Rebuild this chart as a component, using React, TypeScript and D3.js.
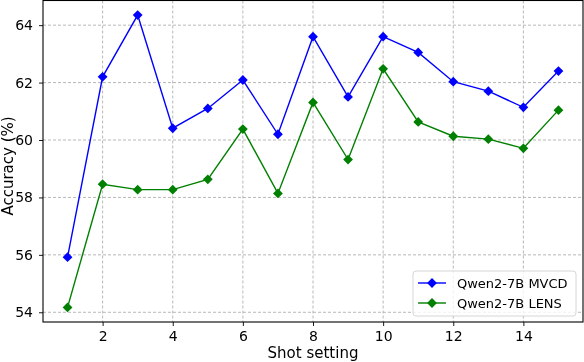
import * as d3 from 'd3';
import React, { useEffect, useRef } from 'react';

// shot settings on the x axis
const shots = [1, 2, 3, 4, 5, 6, 7, 8, 9, 10, 11, 12, 13, 14, 15];

// accuracy (%) per shot setting
const mvcd = [55.92, 62.2, 64.35, 60.41, 61.1, 62.09, 60.2, 63.6, 61.5, 63.6, 63.05, 62.03, 61.7, 61.14, 62.4];
const lens = [54.17, 58.46, 58.27, 58.27, 58.63, 60.38, 58.14, 61.31, 59.32, 62.48, 60.63, 60.13, 60.03, 59.71, 61.04];

const seriesNames = ['Qwen2-7B MVCD', 'Qwen2-7B LENS'];
const seriesColors = ['#0000ff', '#008000'];

const xTicks = [2, 4, 6, 8, 10, 12, 14];
const yTicks = [54, 56, 58, 60, 62, 64];

const App = () => {
  const svgRef = useRef<SVGSVGElement>(null);

  useEffect(() => {
    const svg = d3.select(svgRef.current);
    svg.selectAll('*').remove();

    const width = 584;
    const height = 362;
    const margin = { top: 0.5, right: 1, bottom: 40, left: 43 };
    const innerW = width - margin.left - margin.right;
    const innerH = height - margin.top - margin.bottom;
    const font = 'DejaVu Sans, sans-serif';

    // matplotlib-like 5% padding
    const xPad = (15 - 1) * 0.05;
    const yMin = 54.17, yMax = 64.35;
    const yPad = (yMax - yMin) * 0.05;
    const x = d3.scaleLinear().domain([1 - xPad, 15 + xPad]).range([0, innerW]);
    const y = d3.scaleLinear().domain([yMin - yPad, yMax + yPad]).range([innerH, 0]);

    const g = svg.append('g').attr('transform', `translate(${margin.left},${margin.top})`);

    // grid
    g.append('g')
      .selectAll('line')
      .data(xTicks)
      .enter()
      .append('line')
      .attr('x1', d => x(d)).attr('x2', d => x(d))
      .attr('y1', 0).attr('y2', innerH)
      .attr('stroke', '#b0b0b0')
      .attr('stroke-width', 0.9)
      .attr('stroke-dasharray', '3,2');
    g.append('g')
      .selectAll('line')
      .data(yTicks)
      .enter()
      .append('line')
      .attr('x1', 0).attr('x2', innerW)
      .attr('y1', d => y(d)).attr('y2', d => y(d))
      .attr('stroke', '#b0b0b0')
      .attr('stroke-width', 0.9)
      .attr('stroke-dasharray', '3,2');

    // axes
    const xAxis = g.append('g')
      .attr('transform', `translate(0,${innerH})`)
      .call(d3.axisBottom(x).tickValues(xTicks).tickSize(4).tickPadding(5).tickFormat(d3.format('d')));
    const yAxis = g.append('g')
      .call(d3.axisLeft(y).tickValues(yTicks).tickSize(4).tickPadding(6).tickFormat(d3.format('d')));
    [xAxis, yAxis].forEach(a => {
      a.select('.domain').remove();
      a.selectAll('text').attr('font-family', font).attr('font-size', 14).attr('fill', '#000');
      a.selectAll('line').attr('stroke', '#000').attr('stroke-width', 0.9);
    });

    // frame
    g.append('rect')
      .attr('width', innerW).attr('height', innerH)
      .attr('fill', 'none').attr('stroke', '#000').attr('stroke-width', 1.1);

    const line = d3.line<number>()
      .x((_, i) => x(shots[i]))
      .y(d => y(d));
    const diamond = d3.symbol().type(d3.symbolSquare).size(48);

    [mvcd, lens].forEach((vals, k) => {
      g.append('path')
        .datum(vals)
        .attr('d', line)
        .attr('fill', 'none')
        .attr('stroke', seriesColors[k])
        .attr('stroke-width', 1.4);
      g.selectAll(`.m${k}`)
        .data(vals)
        .enter()
        .append('path')
        .attr('class', `m${k}`)
        .attr('d', diamond)
        .attr('transform', (d, i) => `translate(${x(shots[i])},${y(d)}) rotate(45)`)
        .attr('fill', seriesColors[k]);
    });

    // axis labels
    svg.append('text')
      .attr('x', margin.left + innerW / 2)
      .attr('y', 358)
      .attr('text-anchor', 'middle')
      .attr('font-family', font)
      .attr('font-size', 15)
      .text('Shot setting');
    svg.append('text')
      .attr('transform', `translate(13,${166}) rotate(-90)`)
      .attr('text-anchor', 'middle')
      .attr('font-family', font)
      .attr('font-size', 15)
      .text('Accuracy (%)');

    // legend
    const lg = svg.append('g').attr('transform', 'translate(413,271)');
    lg.append('rect')
      .attr('width', 163).attr('height', 45).attr('rx', 3)
      .attr('fill', '#fff').attr('fill-opacity', 0.8)
      .attr('stroke', '#d6d6d6').attr('stroke-width', 1);
    seriesNames.forEach((name, k) => {
      const ry = 12 + k * 20;
      lg.append('line')
        .attr('x1', 5).attr('x2', 33).attr('y1', ry).attr('y2', ry)
        .attr('stroke', seriesColors[k]).attr('stroke-width', 1.4);
      lg.append('path')
        .attr('d', diamond)
        .attr('transform', `translate(19,${ry}) rotate(45)`)
        .attr('fill', seriesColors[k]);
      lg.append('text')
        .attr('x', 44).attr('y', ry)
        .attr('dy', '0.35em')
        .attr('font-family', font)
        .attr('font-size', 13)
        .text(name);
    });
  }, []);

  return (
    <div style={{ position: 'fixed', left: 0, top: 0 }}>
      <svg ref={svgRef} width="584" height="362" style={{ display: 'block' }}></svg>
    </div>
  );
};

export default App;
